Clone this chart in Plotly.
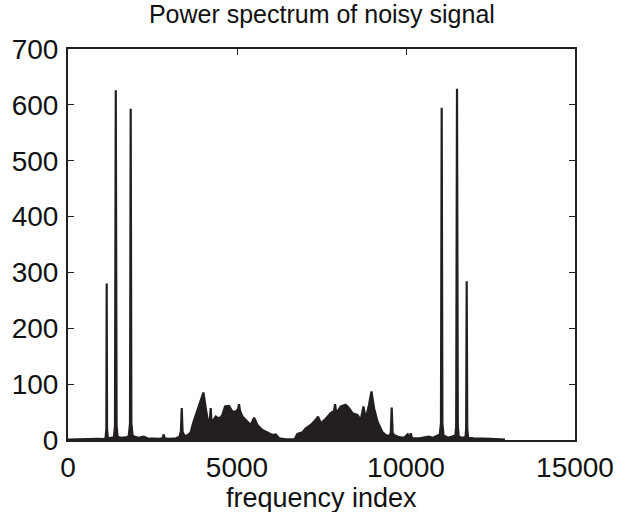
import plotly.graph_objects as go

# frequency index (x) and power (y)
freq_index = [
    0, 300, 500, 700, 900, 1050,
    1110, 1135, 1145, 1155, 1180, 1300,
    1360, 1390, 1414, 1438, 1470, 1600, 1750,
    1800, 1835, 1855, 1875, 1910,
    2000, 2100, 2240, 2350, 2500, 2700, 2800, 2832, 2860, 3000, 3200, 3300,
    3340, 3365, 3390, 3450, 3550, 3631,
    3700, 3779, 3876, 4006, 4075, 4143, 4200, 4222, 4245, 4273, 4371, 4468, 4569,
    4646, 4764, 4865, 4962, 5030, 5060, 5090, 5160, 5308, 5406, 5504, 5604, 5752,
    5900, 6048, 6146, 6243, 6442, 6550, 6700,
    6788, 6936, 7034, 7182, 7330, 7398, 7478, 7626, 7774, 7870, 7901, 7930, 7972,
    8069, 8217, 8315, 8415, 8563, 8661, 8741, 8809, 8907, 8978, 9055, 9155,
    9303, 9401, 9498, 9550, 9577, 9604, 9646, 9794, 9942,
    10050, 10100, 10140, 10180, 10400, 10670, 10800, 10950,
    11000, 11035, 11056, 11077, 11110, 11250, 11400,
    11460, 11485, 11509, 11533, 11560, 11650,
    11760, 11780, 11796, 11812, 11840, 12000, 12300, 12500, 12800, 12930,
]
power = [
    0.5, 1, 2, 3, 2, 1.5,
    3, 20, 280, 20, 3, 4,
    5, 25, 626, 25, 5, 4, 5,
    8, 30, 593, 30, 8,
    5, 4, 6, 3, 2, 2, 3, 10, 3, 2, 3, 6,
    15, 57, 15, 7, 9, 14,
    30, 45, 63, 85, 57, 33, 38, 57, 33, 33, 42, 38, 45,
    60, 61, 51, 51, 55, 64, 52, 42, 33, 27, 40, 27, 18,
    14, 9, 10, 3, 1, 0.5, 1,
    11, 14, 21, 27, 36, 42, 30, 38, 48, 52, 64, 52, 51,
    60, 63, 57, 48, 45, 36, 60, 38, 63, 87, 57, 33,
    14, 9, 7, 12, 58, 12, 9, 5, 4,
    10, 4, 12, 3, 3, 6, 4, 8,
    10, 30, 595, 30, 8, 4, 6,
    8, 25, 629, 25, 6, 4,
    5, 20, 284, 20, 4, 3, 3, 2, 1, 0.5,
]

x_ticks = [0, 5000, 10000, 15000]
y_ticks = [0, 100, 200, 300, 400, 500, 600, 700]

ink = "#231f20"
font_family = "Liberation Sans, Arial, sans-serif"

fig = go.Figure()
fig.add_trace(go.Scatter(
    x=freq_index, y=power, mode="lines",
    line=dict(color=ink, width=2.2),
    fill="tozeroy", fillcolor=ink,
    hoverinfo="skip", showlegend=False,
))

axis_common = dict(
    showgrid=False, zeroline=False, showline=True, linecolor=ink, linewidth=2,
    mirror="allticks", ticks="inside", ticklen=6, tickwidth=1.3, tickcolor=ink,
    automargin=False,
    tickfont=dict(family=font_family, size=28, color="#111"),
)

fig.update_layout(
    width=625, height=512,
    margin=dict(l=68, r=50, t=49, b=72),
    paper_bgcolor="white", plot_bgcolor="white",
    title=dict(text="Power spectrum of noisy signal", x=0.515, xanchor="center",
               y=0.972, yanchor="middle", yref="container",
               font=dict(family=font_family, size=25, color="#111")),
    xaxis=dict(range=[0, 15000], tickvals=x_ticks,
               ticktext=[str(v) for v in x_ticks], ticklabelstandoff=1,
               **axis_common),
    yaxis=dict(range=[0, 700], tickvals=y_ticks,
               ticktext=[str(v) for v in y_ticks], ticklabelstandoff=2,
               **axis_common),
    annotations=[dict(text="frequency index", xref="paper", yref="paper",
                      x=0.5, y=-0.148, xanchor="center", yanchor="middle",
                      showarrow=False,
                      font=dict(family=font_family, size=27, color="#111"))],
)

fig.write_html(
    "out.html",
    config={"displayModeBar": False},
    post_script="document.body.style.margin='0';document.body.style.overflow='hidden';",
)
